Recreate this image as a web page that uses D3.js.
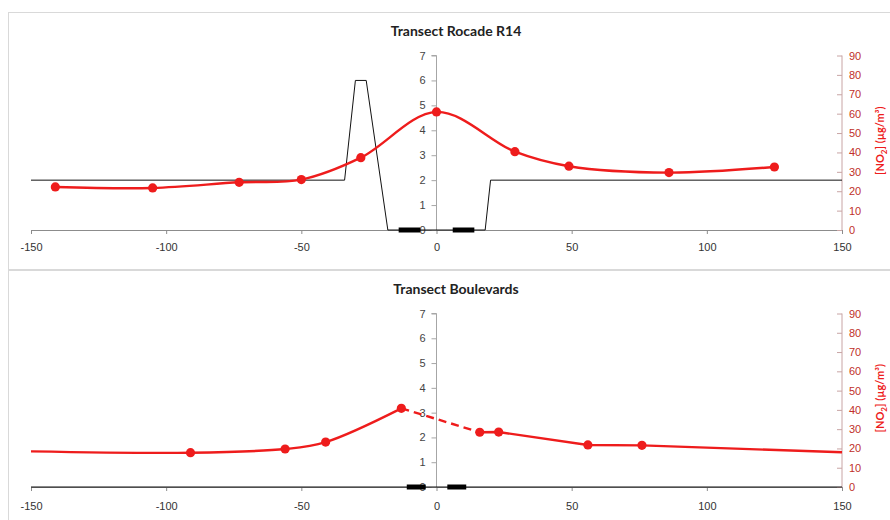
<!DOCTYPE html>
<html>
<head>
<meta charset="utf-8">
<script src="https://cdn.jsdelivr.net/npm/d3@7"></script>
<style>
  html, body { margin: 0; padding: 0; background: #fff; }
  svg { display: block; font-family: Lato, "Open Sans", sans-serif; }
</style>
</head>
<body>
<svg id="chart" width="890" height="520"></svg>
<script>
// Shared tick values
const distTicks = [-150, -100, -50, 0, 50, 100, 150];
const heightTicks = [0, 1, 2, 3, 4, 5, 6, 7];
const no2Ticks = [0, 10, 20, 30, 40, 50, 60, 70, 80, 90];

// Transect Rocade R14: NO2 measurements (µg/m³) along the distance (m)
const rocadeDist = [-141, -105, -73, -50, -28, 0, 29, 49, 86, 125];
const rocadeNO2 = [22.2, 21.7, 24.6, 26.0, 37.3, 60.9, 40.4, 32.9, 29.6, 32.5];
// Ground / embankment profile (m)
const rocadeProfileDist = [-150, -34, -30, -26, -18, 18, 20, 150];
const rocadeProfileHeight = [2, 2, 6, 6, 0, 0, 2, 2];
// Carriageways
const rocadeLanes = [[-14, -6], [6, 14]];

// Transect Boulevards
const bdDist = [-91, -56, -41, -13, 16, 23, 56, 76];
const bdNO2 = [17.8, 19.7, 23.3, 40.8, 28.4, 28.5, 21.8, 21.6];
const bdEndDist = [-150, 150];
const bdEndNO2 = [18.5, 18.0];
const bdProfileDist = [-150, 150];
const bdProfileHeight = [0, 0];
const bdLanes = [[-11, -4], [4, 11]];

const svg = d3.select("#chart");
const RED = "#ee1c1c";
const AXIS_RED = "#c0302a";
const plain = d => String(d);

const x = d3.scaleLinear().domain([-150, 150]).range([31, 842]);

function panel(top, title, yBottom, yTop, labelPad, draw) {
  const g = svg.append("g");
  // frame
  g.append("rect").attr("x", 8.5).attr("y", top + 0.5).attr("width", 900).attr("height", 257)
    .attr("fill", "#fff").attr("stroke", "#d9d9d9").attr("stroke-width", 1);

  const yH = d3.scaleLinear().domain([0, 7]).range([yBottom, yTop]);
  const yN = d3.scaleLinear().domain([0, 90]).range([yBottom, yTop]);

  g.append("text").attr("x", 456).attr("y", top + 24).attr("text-anchor", "middle")
    .attr("font-size", 14).attr("font-weight", "bold").attr("fill", "#222").text(title);

  // distance axis
  const xa = g.append("g").attr("transform", `translate(0,${yBottom})`)
    .call(d3.axisBottom(x).tickValues(distTicks).tickSize(4).tickPadding(labelPad).tickFormat(plain));
  xa.select(".domain").attr("stroke", "#8c8c8c");
  xa.selectAll(".tick line").attr("stroke", "#8c8c8c");
  xa.selectAll("text").attr("font-size", 11).attr("fill", "#333");

  // height axis (left, at distance 0)
  const ya = g.append("g").attr("transform", `translate(${x(0)},0)`)
    .call(d3.axisLeft(yH).tickValues(heightTicks).tickSize(5).tickPadding(6).tickFormat(plain));
  ya.select(".domain").attr("stroke", "#a6a6a6").attr("d", `M-5,${yTop}H0V${yBottom}`);
  ya.selectAll(".tick line").attr("stroke", "#a6a6a6");
  ya.selectAll("text").attr("font-size", 11).attr("fill", "#444");

  // NO2 axis (right)
  const ra = g.append("g").attr("transform", `translate(${x(150)},0)`)
    .call(d3.axisRight(yN).tickValues(no2Ticks).tickSize(0).tickPadding(7).tickFormat(plain));
  ra.select(".domain").attr("stroke", "#c8a4a4").attr("d", `M0,${yTop}V${yBottom}`);
  ra.selectAll(".tick").append("line").attr("x1", -5).attr("x2", 0).attr("stroke", "#c8a4a4");
  ra.selectAll("text").attr("font-size", 11).attr("fill", AXIS_RED);

  const cy = (yTop + yBottom) / 2;
  const lab = g.append("text").attr("transform", `translate(884,${cy - 2}) rotate(-90)`)
    .attr("text-anchor", "middle").attr("font-size", 11).attr("font-weight", "bold").attr("fill", RED);
  lab.append("tspan").text("[NO");
  lab.append("tspan").attr("font-size", 8).attr("dy", 3).text("2");
  lab.append("tspan").attr("dy", -3).text("] (µg/m³)");

  draw(g, yH, yN);
}

function drawProfile(g, yH, dists, heights, lanes) {
  const pts = dists.map((d, i) => [d, heights[i]]);
  g.append("path").datum(pts)
    .attr("d", d3.line().x(d => x(d[0])).y(d => yH(d[1])))
    .attr("fill", "none").attr("stroke", "#111").attr("stroke-width", 1);
  g.selectAll(null).data(lanes).join("line")
    .attr("x1", d => x(d[0])).attr("x2", d => x(d[1]))
    .attr("y1", yH(0)).attr("y2", yH(0))
    .attr("stroke", "#000").attr("stroke-width", 5);
}

function drawMarkers(g, yN, dists, vals) {
  g.selectAll(null).data(dists.map((d, i) => [d, vals[i]])).join("circle")
    .attr("cx", d => x(d[0])).attr("cy", d => yN(d[1])).attr("r", 4.6).attr("fill", RED);
}

panel(12, "Transect Rocade R14", 230, 55.5, 9, (g, yH, yN) => {
  drawProfile(g, yH, rocadeProfileDist, rocadeProfileHeight, rocadeLanes);
  const pts = rocadeDist.map((d, i) => [d, rocadeNO2[i]]);
  g.append("path").datum(pts)
    .attr("d", d3.line().x(d => x(d[0])).y(d => yN(d[1])).curve(d3.curveCatmullRom.alpha(0.5)))
    .attr("fill", "none").attr("stroke", RED).attr("stroke-width", 2.4);
  drawMarkers(g, yN, rocadeDist, rocadeNO2);
});

panel(270, "Transect Boulevards", 487, 313.5, 11, (g, yH, yN) => {
  drawProfile(g, yH, bdProfileDist, bdProfileHeight, bdLanes);
  const all = [[bdEndDist[0], bdEndNO2[0]]]
    .concat(bdDist.map((d, i) => [d, bdNO2[i]]))
    .concat([[bdEndDist[1], bdEndNO2[1]]]);
  const west = all.filter(d => d[0] <= -13);
  const road = all.filter(d => d[0] >= -13 && d[0] <= 16);
  const east = all.filter(d => d[0] >= 16);
  const px = d => x(d[0]), py = d => yN(d[1]);
  g.append("path").attr("d", d3.line().x(px).y(py).curve(d3.curveCatmullRom.alpha(0.5))(west))
    .attr("fill", "none").attr("stroke", RED).attr("stroke-width", 2.4);
  g.append("path").attr("d", d3.line().x(px).y(py)(road))
    .attr("fill", "none").attr("stroke", RED).attr("stroke-width", 2.4).attr("stroke-dasharray", "8,5");
  g.append("path").attr("d", d3.line().x(px).y(py)(east))
    .attr("fill", "none").attr("stroke", RED).attr("stroke-width", 2.4);
  drawMarkers(g, yN, bdDist, bdNO2);
});
</script>
</body>
</html>
